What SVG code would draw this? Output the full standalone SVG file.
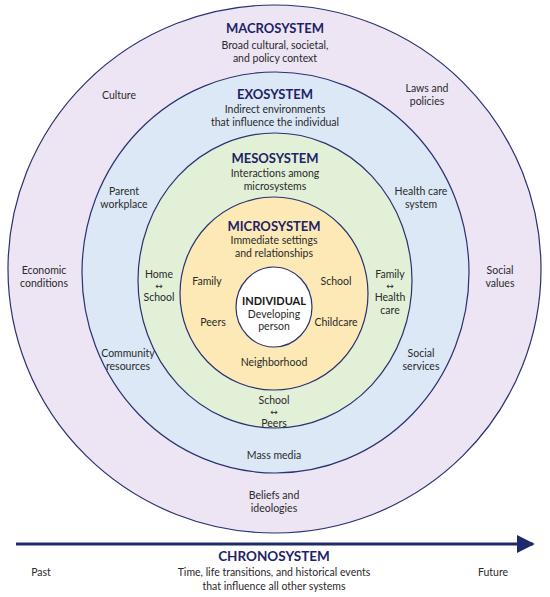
<svg xmlns="http://www.w3.org/2000/svg" width="550" height="597" viewBox="0 0 550 597">
<defs>
<style>
.ring{stroke:#2b3270;stroke-width:1.2}
.t{font-family:Lato,"Liberation Sans",sans-serif;font-size:10.5px;fill:#2a2a2a;text-anchor:middle}
.h{font-family:Lato,"Liberation Sans",sans-serif;font-size:13px;font-weight:bold;fill:#1e2266;text-anchor:middle}
.a{font-family:"DejaVu Sans",sans-serif;font-size:9px;fill:#2a2a2a;text-anchor:middle}
</style>
<marker id="ah" viewBox="0 0 10 10" refX="9" refY="5" markerWidth="6" markerHeight="6" orient="auto" markerUnits="strokeWidth">
<path d="M0,0 L10,5 L0,10 z" fill="#1f2a6b"/>
</marker>
</defs>
<rect width="550" height="597" fill="#ffffff"/>
<g id="macrosystem">
<ellipse class="ring" cx="274.5" cy="269" rx="266.5" ry="264" fill="#ede5f4"/>
<text class="h" x="275" y="33">MACROSYSTEM</text>
<text class="t" x="275" y="49">Broad cultural, societal,</text>
<text class="t" x="275" y="62">and policy context</text>
<text class="t" x="119" y="99">Culture</text>
<text class="t" x="427" y="92">Laws and</text>
<text class="t" x="427" y="105">policies</text>
<text class="t" x="44" y="274">Economic</text>
<text class="t" x="44" y="287">conditions</text>
<text class="t" x="500" y="274">Social</text>
<text class="t" x="500" y="287">values</text>
<text class="t" x="274" y="499">Beliefs and</text>
<text class="t" x="274" y="512">ideologies</text>
</g>
<g id="exosystem">
<ellipse class="ring" cx="275.5" cy="272.5" rx="193.5" ry="200.5" fill="#dce8f6"/>
<text class="h" x="275" y="99">EXOSYSTEM</text>
<text class="t" x="275" y="113">Indirect environments</text>
<text class="t" x="275" y="126">that influence the individual</text>
<text class="t" x="124" y="195">Parent</text>
<text class="t" x="124" y="208">workplace</text>
<text class="t" x="421" y="195">Health care</text>
<text class="t" x="421" y="208">system</text>
<text class="t" x="128" y="357">Community</text>
<text class="t" x="128" y="370">resources</text>
<text class="t" x="421" y="357">Social</text>
<text class="t" x="421" y="370">services</text>
<text class="t" x="274" y="459">Mass media</text>
</g>
<g id="mesosystem">
<ellipse class="ring" cx="275" cy="280.5" rx="137" ry="147.5" fill="#e3f0d8"/>
<text class="h" x="275" y="163">MESOSYSTEM</text>
<text class="t" x="275" y="177">Interactions among</text>
<text class="t" x="275" y="190">microsystems</text>
<text class="t" x="159" y="278">Home</text>
<text class="a" x="159" y="288.5">↔</text>
<text class="t" x="159" y="301">School</text>
<text class="t" x="390" y="278">Family</text>
<text class="a" x="390" y="288.5">↔</text>
<text class="t" x="390" y="301">Health</text>
<text class="t" x="390" y="314">care</text>
<text class="t" x="274" y="404">School</text>
<text class="a" x="274" y="414.5">↔</text>
<text class="t" x="274" y="427">Peers</text>
</g>
<g id="microsystem">
<ellipse class="ring" cx="274" cy="293.5" rx="94" ry="96.5" fill="#fce9b5"/>
<text class="h" x="274" y="231">MICROSYSTEM</text>
<text class="t" x="274" y="244">Immediate settings</text>
<text class="t" x="274" y="257">and relationships</text>
<text class="t" x="207" y="285">Family</text>
<text class="t" x="336" y="285">School</text>
<text class="t" x="213" y="326">Peers</text>
<text class="t" x="336" y="326">Childcare</text>
<text class="t" x="274" y="366">Neighborhood</text>
</g>
<g id="individual">
<ellipse class="ring" cx="274" cy="307" rx="38" ry="40" fill="#ffffff"/>
<text x="274" y="305" style="font-family:Lato,'Liberation Sans',sans-serif;font-size:11px;font-weight:bold;fill:#151515;text-anchor:middle">INDIVIDUAL</text>
<text class="t" x="274" y="318">Developing</text>
<text class="t" x="274" y="330">person</text>
</g>
<g id="connectors">
<line x1="16" y1="544" x2="533" y2="544" stroke="#1f2a6b" stroke-width="3" marker-end="url(#ah)"/>
</g>
<g id="chronosystem">
<text class="h" x="274" y="561" style="font-size:13.5px">CHRONOSYSTEM</text>
<text class="t" x="41" y="576">Past</text>
<text class="t" x="493" y="576">Future</text>
<text class="t" x="274" y="576">Time, life transitions, and historical events</text>
<text class="t" x="274" y="590">that influence all other systems</text>
</g>
</svg>
